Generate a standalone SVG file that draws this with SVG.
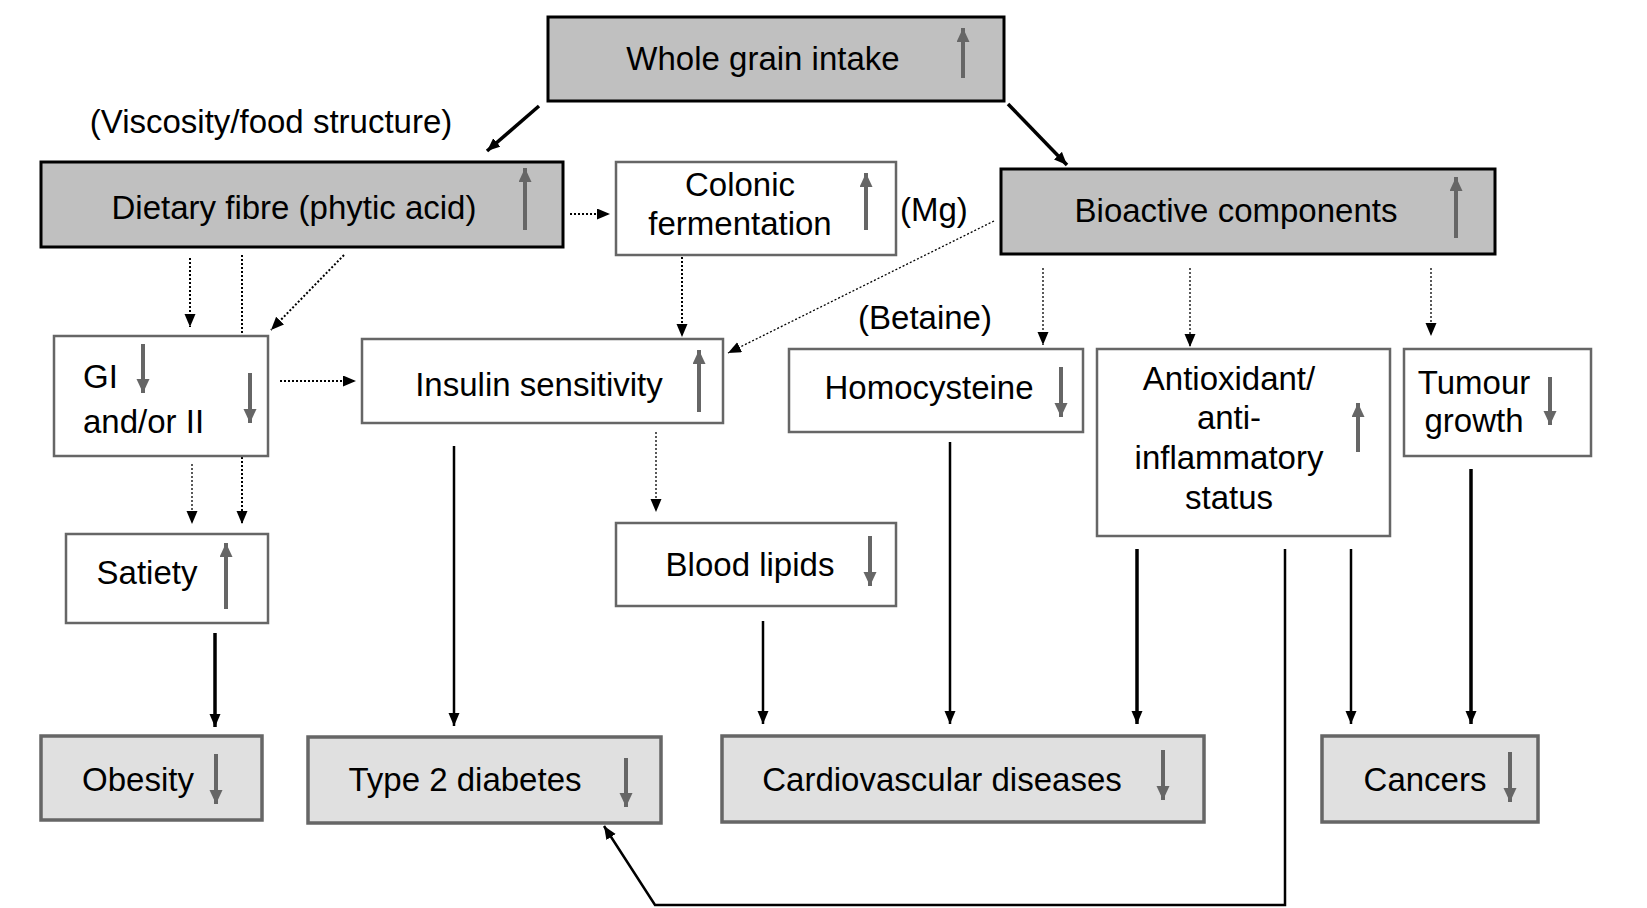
<svg xmlns="http://www.w3.org/2000/svg" width="1647" height="908" viewBox="0 0 1647 908">
<style>
text{font-family:"Liberation Sans",Arial,Helvetica,sans-serif;font-size:33px;fill:#000}
.c{text-anchor:middle}
.top{fill:#c0c0c0;stroke:#000;stroke-width:3}
.mid{fill:#fff;stroke:#666;stroke-width:2.5}
.bot{fill:#e0e0e0;stroke:#666;stroke-width:3.5}
.va{stroke:#666;stroke-width:4;fill:none;marker-end:url(#ga)}
.sol{stroke:#000;stroke-width:2.5;fill:none;marker-end:url(#ba)}
.thick{stroke:#000;stroke-width:3.5;fill:none;marker-end:url(#ba)}
.dot{stroke:#000;stroke-width:2;stroke-dasharray:2 2;fill:none;marker-end:url(#ba)}
.dotn{stroke:#000;stroke-width:2;stroke-dasharray:2 2;fill:none}
.dott{stroke:#000;stroke-width:1.3;stroke-dasharray:2 2;fill:none;marker-end:url(#ba)}
</style>
<defs>
<marker id="ga" markerUnits="userSpaceOnUse" markerWidth="15" markerHeight="14" refX="14" refY="6.5" orient="auto"><path d="M0,0 L14,6.5 L0,13 z" fill="#666"/></marker>
<marker id="ba" markerUnits="userSpaceOnUse" markerWidth="14" markerHeight="12" refX="13" refY="5.5" orient="auto"><path d="M0,0 L13,5.5 L0,11 z" fill="#000"/></marker>
</defs>
<rect width="1647" height="908" fill="#fff"/>

<g id="connectors">
<line class="thick" x1="539" y1="106" x2="487" y2="151"/>
<line class="thick" x1="1008" y1="104" x2="1067" y2="165"/>
<line class="dot" x1="570" y1="214" x2="610" y2="214"/>
<line class="dot" x1="190" y1="258" x2="190" y2="327"/>
<line class="dotn" x1="242" y1="255" x2="242" y2="336"/>
<line class="dot" x1="344" y1="255" x2="271" y2="330"/>
<line class="dot" x1="280" y1="381" x2="356" y2="381"/>
<line class="dott" x1="192" y1="464" x2="192" y2="524"/>
<line class="dot" x1="242" y1="457" x2="242" y2="524"/>
<line class="dot" x1="682" y1="257" x2="682" y2="337"/>
<line class="dott" x1="994" y1="221" x2="728" y2="353"/>
<line class="dott" x1="656" y1="432" x2="656" y2="512"/>
<line class="dott" x1="1043" y1="268" x2="1043" y2="345"/>
<line class="dott" x1="1190" y1="268" x2="1190" y2="347"/>
<line class="dott" x1="1431" y1="268" x2="1431" y2="336"/>
<line class="thick" x1="215" y1="633" x2="215" y2="727"/>
<line class="sol" x1="454" y1="446" x2="454" y2="726"/>
<line class="sol" x1="763" y1="621" x2="763" y2="724"/>
<line class="sol" x1="950" y1="442" x2="950" y2="724"/>
<line class="thick" x1="1137" y1="549" x2="1137" y2="724"/>
<line class="sol" x1="1351" y1="549" x2="1351" y2="724"/>
<line class="thick" x1="1471" y1="469" x2="1471" y2="724"/>
<polyline class="sol" points="1285,549 1285,905 655,905 604,826"/>
</g>

<g id="whole-grain">
<rect class="top" x="548" y="17" width="456" height="84"/>
<text class="c" x="763" y="70">Whole grain intake</text>
<line class="va" x1="963" y1="78" x2="963" y2="28"/>
</g>

<text id="viscosity-label" class="c" x="271" y="133">(Viscosity/food structure)</text>

<g id="dietary-fibre">
<rect class="top" x="41" y="162" width="522" height="85"/>
<text class="c" x="294" y="219">Dietary fibre (phytic acid)</text>
<line class="va" x1="525" y1="230" x2="525" y2="168"/>
</g>

<g id="colonic">
<rect class="mid" x="616" y="162" width="280" height="93"/>
<text class="c" x="740" y="196">Colonic</text>
<text class="c" x="740" y="235">fermentation</text>
<line class="va" x1="866" y1="230" x2="866" y2="173"/>
</g>

<text id="mg-label" x="900" y="221">(Mg)</text>

<g id="bioactive">
<rect class="top" x="1001" y="169" width="494" height="85"/>
<text class="c" x="1236" y="222">Bioactive components</text>
<line class="va" x1="1456" y1="238" x2="1456" y2="177"/>
</g>

<g id="gi">
<rect class="mid" x="54" y="336" width="214" height="120"/>
<text x="83" y="388">GI</text>
<text x="83" y="433">and/or II</text>
<line class="va" x1="143" y1="344" x2="143" y2="393"/>
<line class="va" x1="250" y1="373" x2="250" y2="423"/>
</g>

<g id="insulin">
<rect class="mid" x="362" y="339" width="361" height="84"/>
<text class="c" x="539" y="396">Insulin sensitivity</text>
<line class="va" x1="699" y1="412" x2="699" y2="350"/>
</g>

<text id="betaine-label" class="c" x="925" y="329">(Betaine)</text>

<g id="homocysteine">
<rect class="mid" x="789" y="349" width="294" height="83"/>
<text class="c" x="929" y="399">Homocysteine</text>
<line class="va" x1="1061" y1="367" x2="1061" y2="417"/>
</g>

<g id="antioxidant">
<rect class="mid" x="1097" y="349" width="293" height="187"/>
<text class="c" x="1229" y="390">Antioxidant/</text>
<text class="c" x="1229" y="429">anti-</text>
<text class="c" x="1229" y="469">inflammatory</text>
<text class="c" x="1229" y="509">status</text>
<line class="va" x1="1358" y1="452" x2="1358" y2="403"/>
</g>

<g id="tumour">
<rect class="mid" x="1404" y="349" width="187" height="107"/>
<text class="c" x="1474" y="394">Tumour</text>
<text class="c" x="1474" y="432">growth</text>
<line class="va" x1="1550" y1="377" x2="1550" y2="425"/>
</g>

<g id="satiety">
<rect class="mid" x="66" y="534" width="202" height="89"/>
<text class="c" x="147" y="584">Satiety</text>
<line class="va" x1="226" y1="609" x2="226" y2="543"/>
</g>

<g id="blood-lipids">
<rect class="mid" x="616" y="523" width="280" height="83"/>
<text class="c" x="750" y="576">Blood lipids</text>
<line class="va" x1="870" y1="536" x2="870" y2="586"/>
</g>

<g id="obesity">
<rect class="bot" x="41" y="736" width="221" height="84"/>
<text class="c" x="138" y="791">Obesity</text>
<line class="va" x1="216" y1="754" x2="216" y2="804"/>
</g>

<g id="type2">
<rect class="bot" x="308" y="737" width="353" height="86"/>
<text class="c" x="465" y="791">Type 2 diabetes</text>
<line class="va" x1="626" y1="758" x2="626" y2="807"/>
</g>

<g id="cvd">
<rect class="bot" x="722" y="736" width="482" height="86"/>
<text class="c" x="942" y="791">Cardiovascular diseases</text>
<line class="va" x1="1163" y1="750" x2="1163" y2="800"/>
</g>

<g id="cancers">
<rect class="bot" x="1322" y="736" width="216" height="86"/>
<text class="c" x="1425" y="791">Cancers</text>
<line class="va" x1="1510" y1="752" x2="1510" y2="802"/>
</g>
</svg>
